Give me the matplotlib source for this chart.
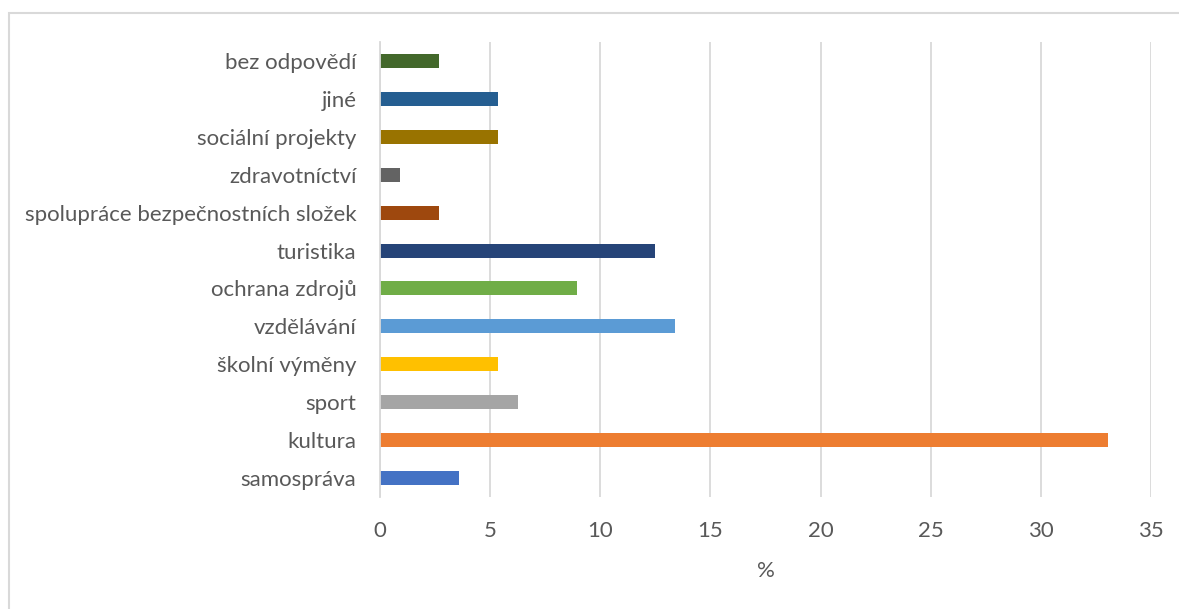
import matplotlib
matplotlib.use("Agg")
from matplotlib import pyplot as plt
from matplotlib.patches import Rectangle

categories = ["samospráva", "kultura", "sport", "školní výměny", "vzdělávání",
              "ochrana zdrojů", "turistika", "spolupráce bezpečnostních složek",
              "zdravotníctví", "sociální projekty", "jiné", "bez odpovědí"]
values = [3.57, 33.04, 6.25, 5.36, 13.39, 8.93, 12.5, 2.68, 0.89, 5.36, 5.36, 2.68]
colors = ["#4472C4", "#ED7D31", "#A5A5A5", "#FFC000", "#5B9BD5", "#70AD47",
          "#264478", "#9E480E", "#636363", "#997300", "#255E91", "#43682B"]
xticks = [0, 5, 10, 15, 20, 25, 30, 35]

TEXT = "#595959"
GRID = "#D9D9D9"
W, H = 1179, 609
FS = 16

plt.rcParams['font.family'] = ['Lato', 'DejaVu Sans']

fig = plt.figure(figsize=(W / 100, H / 100), dpi=100)
ax = fig.add_axes([380 / W, 1 - 497 / H, (1151 - 380) / W, (497 - 42) / H])

ax.barh(range(len(categories)), values, height=0.37, color=colors, zorder=3)

ax.set_xlim(0, 35)
ax.set_ylim(-0.5, len(categories) - 0.5)
ax.set_xticks(xticks)
ax.set_yticks(range(len(categories)))
ax.set_yticklabels(categories)
ax.tick_params(axis="both", length=0, labelsize=FS, labelcolor=TEXT)
ax.tick_params(axis="x", pad=17)
ax.tick_params(axis="y", pad=17)
ax.grid(axis="x", color=GRID, linewidth=1.3, zorder=0)

for side in ["top", "right", "bottom"]:
    ax.spines[side].set_visible(False)
ax.spines["left"].set_color(GRID)
ax.spines["left"].set_linewidth(1.3)
ax.spines["left"].set_zorder(4)

ax.set_xlabel("%", fontsize=FS, color=TEXT, labelpad=15)

# chart frame, running off the right and bottom edges
fig.patches.append(Rectangle((9 / W, -0.05), 1.1, 1 - 13 / H + 0.05,
                             transform=fig.transFigure, fill=False,
                             edgecolor=GRID, linewidth=1.5))

fig.savefig("out.png", dpi=100)
